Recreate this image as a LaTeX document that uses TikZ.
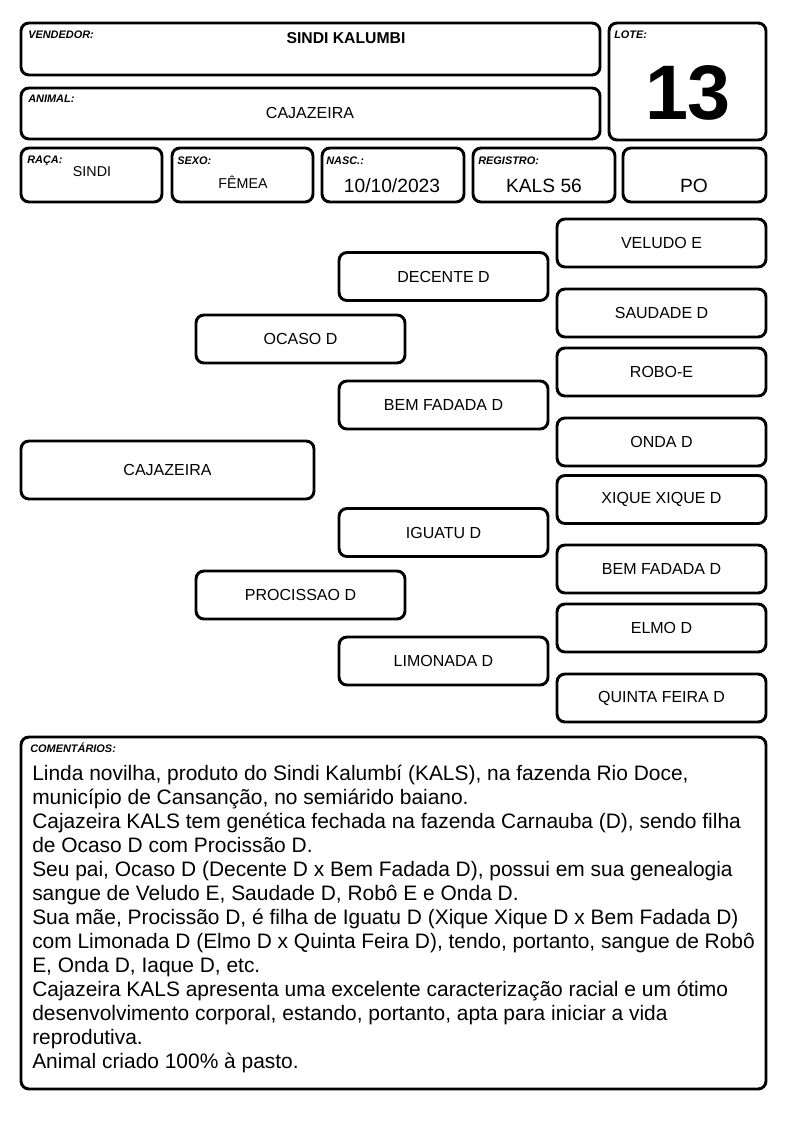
\documentclass[tikz,border=0pt]{standalone}
\usepackage{fontspec}
\setmainfont{Liberation Sans}
\begin{document}
\begin{tikzpicture}[x=0.75pt,y=-0.75pt,
  bx/.style={draw=black, line width=2.2pt, rounded corners=6pt, inner sep=0pt},
  pbox/.style={bx, minimum width=156.75pt, minimum height=36pt, font=\fontsize{12pt}{14pt}\selectfont},
  lbl/.style={anchor=base west, inner sep=0pt, font=\fontsize{8.2pt}{10pt}\selectfont\bfseries\itshape},
  val/.style={anchor=base, inner sep=0pt},
]
\useasboundingbox (0,0) rectangle (794,1123);
\fill[white] (0,0) rectangle (794,1123);

% header boxes
\node[bx, minimum width=434.25pt, minimum height=39pt] (vendedor) at (310.5,49) {};
\node[bx, minimum width=434.25pt, minimum height=38.25pt] (animal) at (310.5,113.5) {};
\node[bx, minimum width=117.75pt, minimum height=87.75pt] (lote) at (687.5,81.5) {};
\node[bx, minimum width=105.75pt, minimum height=40.5pt] (raca) at (91.5,175) {};
\node[bx, minimum width=105.75pt, minimum height=40.5pt] (sexo) at (242.5,175) {};
\node[bx, minimum width=106.5pt, minimum height=40.5pt] (nasc) at (393,175) {};
\node[bx, minimum width=106.5pt, minimum height=40.5pt] (registro) at (544,175) {};
\node[bx, minimum width=107.25pt, minimum height=40.5pt] (po) at (694.5,175) {};

\node[lbl] (l-vend) at (28,39) {VENDEDOR:};
\node[lbl] (l-anim) at (28,103) {ANIMAL:};
\node[lbl] (l-lote) at (614,39) {LOTE:};
\node[lbl] (l-raca) at (27,164) {RAÇA:};
\node[lbl] (l-sexo) at (177,165) {SEXO:};
\node[lbl] (l-nasc) at (326,165) {NASC.:};
\node[lbl] (l-reg) at (478,165) {REGISTRO:};

\node[val, font=\fontsize{11.8pt}{14pt}\selectfont\bfseries] (v-vend) at (346,44) {SINDI KALUMBI};
\node[val, font=\fontsize{12pt}{14pt}\selectfont] (v-anim) at (310,119) {CAJAZEIRA};
\node[val, font=\fontsize{58pt}{60pt}\selectfont\bfseries] (v-lote) at (688,120) {13};
\node[val, font=\fontsize{10.7pt}{12pt}\selectfont] (v-raca) at (92,177) {SINDI};
\node[val, font=\fontsize{10.7pt}{12pt}\selectfont] (v-sexo) at (243,189) {FÊMEA};
\node[val, font=\fontsize{14.4pt}{16pt}\selectfont] (v-nasc) at (392,193) {10/10/2023};
\node[val, font=\fontsize{14.4pt}{16pt}\selectfont] (v-reg) at (544,193) {KALS 56};
\node[val, font=\fontsize{14.4pt}{16pt}\selectfont] (v-po) at (694,193) {PO};

% pedigree
\node[pbox, minimum width=219.75pt, minimum height=43.5pt] (cajazeira) at (167.5,470) {CAJAZEIRA};
\node[pbox] (ocaso) at (300.5,339) {OCASO D};
\node[pbox] (procissao) at (300.5,595) {PROCISSAO D};
\node[pbox] (decente) at (443.5,276.5) {DECENTE D};
\node[pbox] (bemfadada1) at (443.5,405) {BEM FADADA D};
\node[pbox] (iguatu) at (443.5,532.5) {IGUATU D};
\node[pbox] (limonada) at (443.5,661) {LIMONADA D};
\node[pbox] (veludo) at (661.5,243) {VELUDO E};
\node[pbox] (saudade) at (661.5,313) {SAUDADE D};
\node[pbox] (robo) at (661.5,372) {ROBO-E};
\node[pbox] (onda) at (661.5,442) {ONDA D};
\node[pbox] (xique) at (661.5,499.5) {XIQUE XIQUE D};
\node[pbox] (bemfadada2) at (661.5,569) {BEM FADADA D};
\node[pbox] (elmo) at (661.5,628) {ELMO D};
\node[pbox] (quinta) at (661.5,698) {QUINTA FEIRA D};

% comments
\node[bx, minimum width=558.75pt, minimum height=264pt] (coment) at (393.5,913) {};
\node[lbl] (l-coment) at (30,752) {COMENTÁRIOS:};
\node[anchor=north west, inner sep=0pt, align=left, font=\fontsize{15.7pt}{18pt}\selectfont] (c-text) at (32,765) {%
Linda novilha, produto do Sindi Kalumbí (KALS), na fazenda Rio Doce,\\
município de Cansanção, no semiárido baiano.\\
Cajazeira KALS tem genética fechada na fazenda Carnauba (D), sendo filha\\
de Ocaso D com Procissão D.\\
Seu pai, Ocaso D (Decente D x Bem Fadada D), possui em sua genealogia\\
sangue de Veludo E, Saudade D, Robô E e Onda D.\\
Sua mãe, Procissão D, é filha de Iguatu D (Xique Xique D x Bem Fadada D)\\
com Limonada D (Elmo D x Quinta Feira D), tendo, portanto, sangue de Robô\\
E, Onda D, Iaque D, etc.\\
Cajazeira KALS apresenta uma excelente caracterização racial e um ótimo\\
desenvolvimento corporal, estando, portanto, apta para iniciar a vida\\
reprodutiva.\\
Animal criado 100\% à pasto.};
\end{tikzpicture}
\end{document}
